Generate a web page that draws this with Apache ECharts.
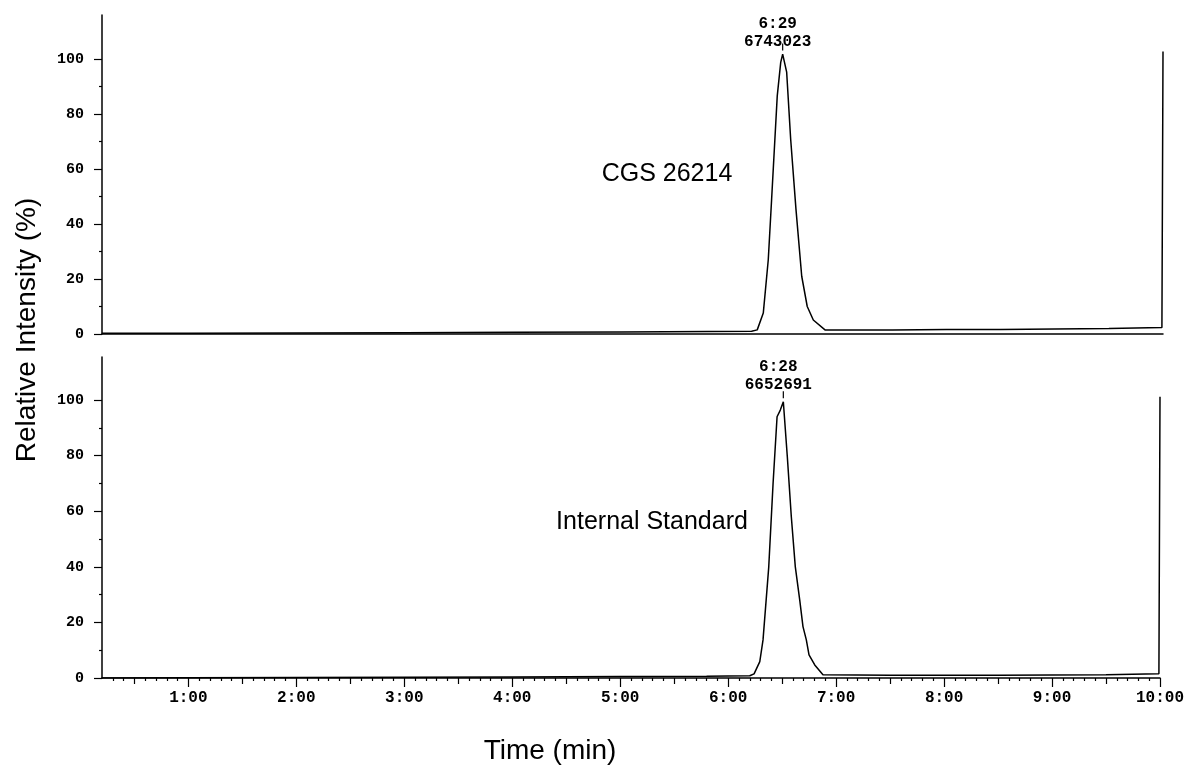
<html>
<head>
<meta charset="utf-8">
<script src="https://cdn.jsdelivr.net/npm/echarts@6/dist/echarts.min.js"></script>
<style>
html, body { margin: 0; background: #fff; }
#main { width: 1187px; height: 768px; }
</style>
</head>
<body>
<div id="main"></div>
<script>

// traces: [time (min), relative intensity (%)]
var cgsTrace = [
    [0.2, 0.3], [1.0, 0.3], [2.0, 0.4], [3.0, 0.5], [4.0, 0.6], [5.0, 0.7], [5.8, 0.9], [6.2, 1.0],
    [6.252, 1.5], [6.308, 7.6], [6.354, 27], [6.385, 49], [6.437, 86.6], [6.469, 98.8], [6.487, 101.8],
    [6.524, 95.2], [6.561, 70.8], [6.610, 45.3], [6.663, 21], [6.714, 10], [6.770, 5.1], [6.878, 1.5],
    [7.5, 1.5], [8.0, 1.6], [8.5, 1.6], [9.0, 1.8], [9.5, 2.0], [9.99, 2.4], [10, 102.7]
];
var istdTrace = [
    [0.2, 0], [1.0, 0.1], [2.0, 0.2], [3.0, 0.3], [4.0, 0.4], [5.0, 0.5], [5.8, 0.6], [6.2, 0.8],
    [6.24, 1.5], [6.293, 5.9], [6.323, 13.7], [6.376, 40], [6.416, 70], [6.453, 94], [6.483, 96.4],
    [6.511, 99.4], [6.548, 79.6], [6.585, 58], [6.622, 40], [6.663, 28], [6.693, 18.5], [6.724, 13.7],
    [6.749, 8.3], [6.802, 4.7], [6.878, 1.2], [7.5, 1.0], [8.5, 1.0], [9.5, 1.2], [9.99, 1.5], [10, 101.2]
];
var peaks = [[6.487, 101.8], [6.511, 99.4]];
var peakLabels = ['6:29\n6743023', '6:28\n6652691'];
var traceNames = ['CGS 26214', 'Internal Standard'];

var yTicks = [0, 20, 40, 60, 80, 100];
var yMinorTicks = [10, 30, 50, 70, 90];
var xTicks = [1, 2, 3, 4, 5, 6, 7, 8, 9, 10];
var xHalfTicks = [0.5, 1.5, 2.5, 3.5, 4.5, 5.5, 6.5, 7.5, 8.5, 9.5];

var xMinorTicks = [];
for (var k = 3; k < 100; k++) {
    if (k % 5 !== 0) xMinorTicks.push(k / 10);
}

var chart = echarts.init(document.getElementById('main'));

var monoFont = 'Liberation Mono';
var sansFont = 'Liberation Sans';
var black = '#000';

var grids = [
    {left: 102, right: 24, top: 15, height: 319},
    {left: 102, right: 24, top: 357, height: 321}
];
var yMax = [116, 115.5];

function xAxis(gi, ticks, len, labels, lineWidth) {
    return {
        type: 'value', gridIndex: gi, min: 0.2, max: 10, position: 'bottom',
        axisLine: {show: lineWidth > 0, onZero: false, lineStyle: {color: black, width: lineWidth || 1}},
        splitLine: {show: false},
        axisTick: {show: !!ticks, length: len, customValues: ticks || [], lineStyle: {color: black, width: 1.2}},
        axisLabel: {
            show: labels, customValues: xTicks, margin: 12,
            formatter: function (v) { return v + ':00'; },
            fontFamily: monoFont, fontWeight: 'bold', fontSize: 16, color: black
        }
    };
}

function yAxis(gi, ticks, len, labels) {
    return {
        type: 'value', gridIndex: gi, min: 0, max: yMax[gi], position: 'left',
        axisLine: {show: labels, onZero: false, lineStyle: {color: black, width: 1.5}},
        splitLine: {show: false},
        axisTick: {show: true, length: len, customValues: ticks, lineStyle: {color: black, width: 1.2}},
        axisLabel: {
            show: labels, customValues: yTicks, margin: 18,
            fontFamily: monoFont, fontWeight: 'bold', fontSize: 15, color: black
        }
    };
}

var xAxes = [
    xAxis(0, null, 0, false, 1.5),
    xAxis(1, xTicks, 9, true, 1.5),
    xAxis(1, xHalfTicks, 6, false, 0),
    xAxis(1, xMinorTicks, 3, false, 0)
];
var yAxes = [
    yAxis(0, yTicks, 8, true),
    yAxis(0, yMinorTicks, 3, false),
    yAxis(1, yTicks, 8, true),
    yAxis(1, yMinorTicks, 3, false)
];

var series = [cgsTrace, istdTrace].map(function (trace, i) {
    return {
        name: traceNames[i],
        type: 'line',
        xAxisIndex: i === 0 ? 0 : 1,
        yAxisIndex: i === 0 ? 0 : 2,
        data: trace,
        symbol: 'none',
        lineStyle: {color: black, width: 1.5},
        markPoint: {
            symbol: 'rect',
            symbolSize: [1.2, 7],
            symbolOffset: [0, -7],
            itemStyle: {color: black},
            label: {
                show: true, position: 'top', distance: 0,
                offset: [-5, i === 0 ? 7 : 3],
                formatter: peakLabels[i],
                fontFamily: monoFont, fontWeight: 'bold', fontSize: 16, lineHeight: 18, color: black
            },
            data: [{coord: peaks[i]}]
        }
    };
});

chart.setOption({
    animation: false,
    backgroundColor: '#fff',
    grid: grids,
    xAxis: xAxes,
    yAxis: yAxes,
    series: series,
    graphic: [
        {type: 'text', x: 667, y: 174, style: {text: traceNames[0], font: '25px ' + sansFont, fill: black, align: 'center', verticalAlign: 'middle'}},
        {type: 'text', x: 652, y: 522, style: {text: traceNames[1], font: '25px ' + sansFont, fill: black, align: 'center', verticalAlign: 'middle'}},
        {type: 'text', x: 27, y: 330, rotation: Math.PI / 2, style: {text: 'Relative Intensity (%)', font: '28px ' + sansFont, fill: black, align: 'center', verticalAlign: 'middle'}},
        {type: 'text', x: 550, y: 751, style: {text: 'Time (min)', font: '28px ' + sansFont, fill: black, align: 'center', verticalAlign: 'middle'}}
    ]
});

</script>
</body>
</html>
